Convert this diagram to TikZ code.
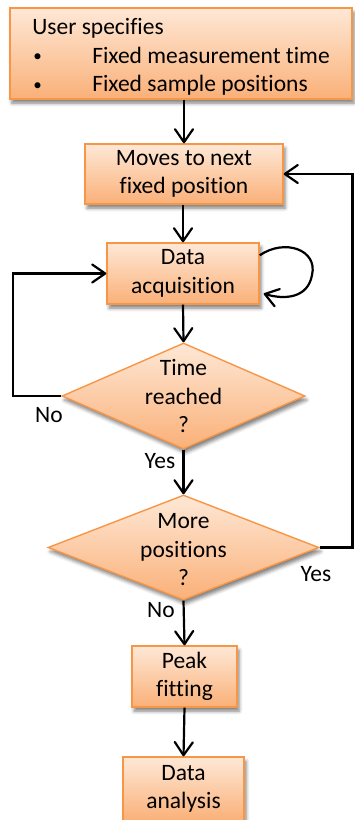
\documentclass[tikz,border=0pt]{standalone}
\usepackage{fontspec}
\setmainfont{Carlito}[Ligatures=NoCommon]
\usetikzlibrary{arrows.meta,shapes.geometric,shadows.blur,calc}

\definecolor{boxtop}{RGB}{254,232,214}
\definecolor{boxbot}{RGB}{250,176,120}
\definecolor{boxline}{RGB}{247,150,70}

\newcommand{\chartfont}{\fontsize{23.5}{28.5}\selectfont}
\newcommand{\listdot}{\makebox[60pt][l]{\hspace{1pt}\raisebox{1.5pt}{\fontsize{17}{17}\selectfont\textbullet}}}

\tikzset{
  base/.style={draw=boxline, line width=1.4pt, top color=boxtop, bottom color=boxbot,
    blur shadow={shadow xshift=2pt, shadow yshift=-4pt, shadow blur radius=3.5pt, shadow opacity=50}},
  procbox/.style={base, rectangle, inner sep=0pt, align=center, font=\chartfont},
  decision/.style={base, diamond, inner sep=0pt},
  txt/.style={align=center, font=\chartfont, inner sep=0pt},
  arr/.style={line width=2.2pt, -{Straight Barb[length=13pt,width=18pt,round]}},
}

\begin{document}
\begin{tikzpicture}[x=1pt, y=-1pt]
  \useasboundingbox (0,0) rectangle (355,820);
  \clip (0,0) rectangle (355,820);

  % process steps
  \node[procbox, minimum width=342pt, minimum height=91pt, align=left] (spec) at (181,53.5)
    {\rule{0pt}{23pt}User specifies\\
     \listdot Fixed measurement time\\
     \listdot Fixed sample positions};
  \node[procbox, minimum width=198pt, minimum height=60pt] (move) at (184,174)
    {Moves to next\\fixed position};
  \node[procbox, minimum width=152pt, minimum height=61pt] (acq) at (183,273.5)
    {Data\\acquisition};

  % decisions
  \node[decision, minimum width=243pt, minimum height=106pt] (time) at (183.5,396) {};
  \node[txt] (timetxt) at (time) {Time\\reached\\?};
  \node[decision, minimum width=271pt, minimum height=105pt] (more) at (183.5,547.5) {};
  \node[txt] (moretxt) at (183.5,550) {More\\positions\\?};

  \node[procbox, minimum width=105pt, minimum height=61pt] (peak) at (184.5,676.5)
    {Peak\\fitting};
  \node[procbox, minimum width=121pt, minimum height=64pt] (ana) at (183.5,789)
    {Data\\analysis};

  % branch labels
  \node[txt] (lno1)  at (49,415)  {No};
  \node[txt] (lyes1) at (160,461) {Yes};
  \node[txt] (lyes2) at (316,574) {Yes};
  \node[txt] (lno2)  at (161,610) {No};

  % main flow
  \draw[arr] (move.north |- spec.south) -- (move.north);
  \draw[arr] (move.south -| acq.north) -- (acq.north);
  \draw[arr] (acq.south) -- (time.north);
  \draw[arr] (time.south) -- (more.north);
  \draw[arr] (more.south) -- (peak.north);
  \draw[arr] (peak.south) -- (ana.north);

  % loops back
  \coordinate (lp) at (13,0);
  \coordinate (rp) at (352.5,0);
  \draw[arr] (time.west) -- (time.west -| lp) -- (acq.west -| lp) -- (acq.west);
  \draw[arr] (more.east) -- (more.east -| rp) -- (move.east -| rp) -- (move.east);

  % acquisition repeats
  \coordinate (la) at ($(acq.north east)+(0,13)$);
  \coordinate (lb) at ($(acq.south east)+(4,-11)$);
  \draw[arr] (la) .. controls (285,238) and (318,250) .. (312,275)
                  .. controls (308,298) and (285,300) .. (lb);
\end{tikzpicture}
\end{document}
